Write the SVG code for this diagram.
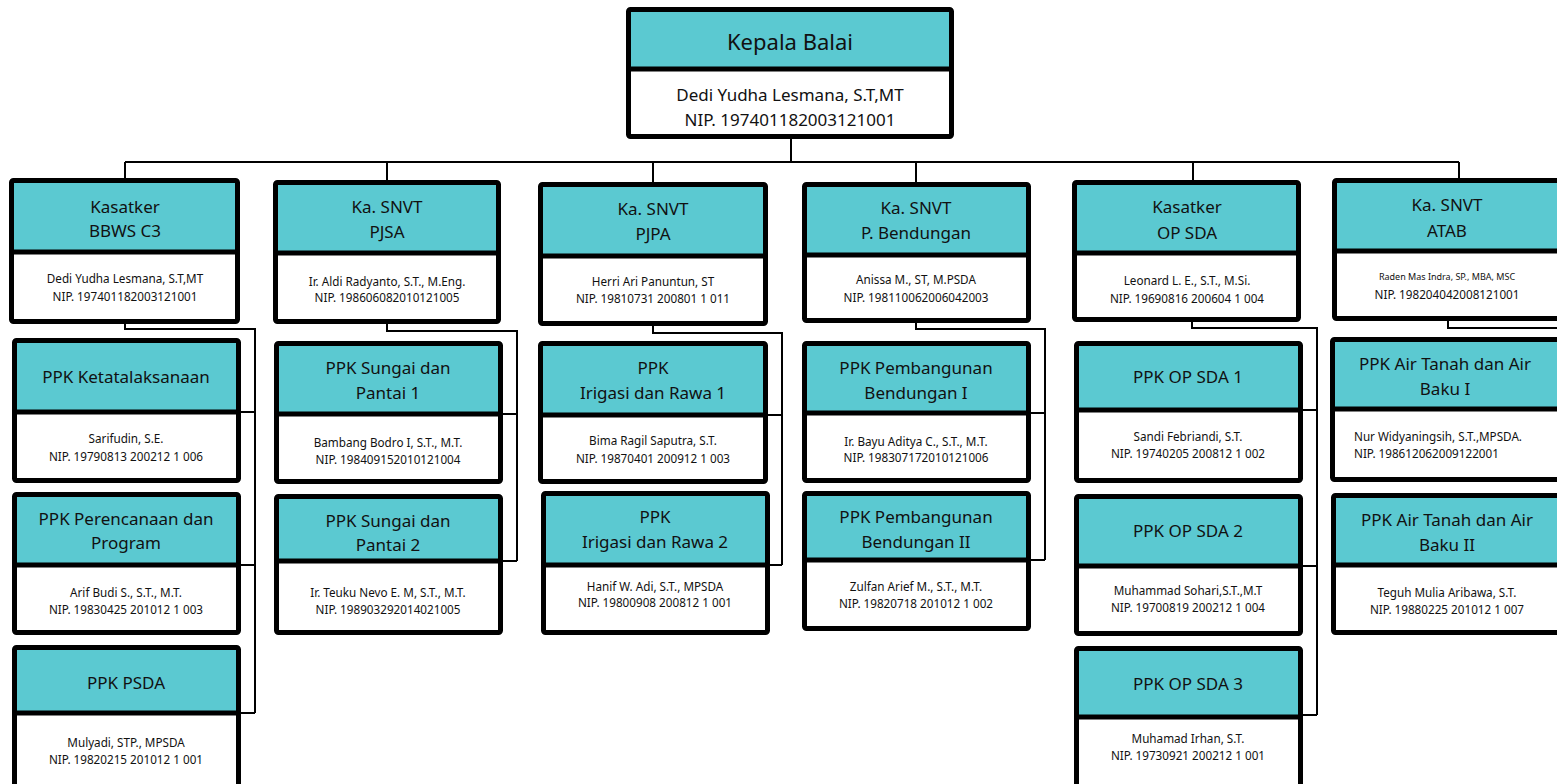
<svg xmlns="http://www.w3.org/2000/svg" width="1557" height="784" viewBox="0 0 1557 784">
<style>
.hd{fill:#5BC9D1;}
.bd{fill:#FFFFFF;}
.bx{fill:none;stroke:#000;stroke-width:5;stroke-linejoin:round;}
.dv{stroke:#000;stroke-width:5;}
.cn{fill:none;stroke:#000;stroke-width:2;}
text{font-family:"Noto Sans","Open Sans","DejaVu Sans",sans-serif;fill:#111;text-anchor:middle;}
.t1{font-size:22px;}
.t2{font-size:17px;}
.t3{font-size:11.7px;}
.t4{font-size:9px;}
.l{text-anchor:start;}
</style>
<rect width="1557" height="784" fill="#fff"/>
<g id="connectors">
<path class="cn" d="M791,139V162M125,162H1459M125,162V178M387,162V180M653,162V182M916,162V182M1193,162V180M1459,162V178"/>
<path class="cn" d="M125,324V329H255V713M241,412H255M241,565H255M241,713H255"/>
<path class="cn" d="M387,324V331H517V561M503,414H517M503,561H517"/>
<path class="cn" d="M653,326V333H782V565M768,415H782M770,565H782"/>
<path class="cn" d="M916,323V329H1045V560M1031,413H1045M1031,560H1045"/>
<path class="cn" d="M1192,322V328H1317V715M1303,410H1317M1303,566H1317M1303,715H1317"/>
<path class="cn" d="M1448,321V328H1560"/>
</g>
<g id="kepala">
<rect class="hd" x="628" y="9" width="324" height="60"/><rect class="bd" x="628" y="69" width="324" height="68"/>
<rect class="bx" x="628.5" y="9.5" width="323" height="127" rx="2"/><line class="dv" x1="628" y1="69" x2="952" y2="69"/>
<text class="t1" x="790" y="50">Kepala Balai</text>
<text class="t2" x="790" y="101">Dedi Yudha Lesmana, S.T,MT</text>
<text class="t2" x="790" y="126">NIP. 197401182003121001</text>
</g>
<g id="bbws">
<rect class="hd" x="11" y="180" width="227" height="72"/><rect class="bd" x="11" y="252" width="227" height="70"/>
<rect class="bx" x="11.5" y="180.5" width="226" height="141" rx="2"/><line class="dv" x1="11" y1="252" x2="238" y2="252"/>
<text class="t2" x="125" y="213">Kasatker</text><text class="t2" x="125" y="237">BBWS C3</text>
<text class="t3" x="125" y="283">Dedi Yudha Lesmana, S.T,MT</text><text class="t3" x="125" y="301">NIP. 197401182003121001</text>
</g>
<g id="ppk-ketatalaksanaan">
<rect class="hd" x="14" y="340" width="225" height="72"/><rect class="bd" x="14" y="412" width="225" height="69"/>
<rect class="bx" x="14.5" y="340.5" width="224" height="140" rx="2"/><line class="dv" x1="14" y1="412" x2="239" y2="412"/>
<text class="t2" x="126" y="383">PPK Ketatalaksanaan</text>
<text class="t3" x="126" y="443">Sarifudin, S.E.</text><text class="t3" x="126" y="461">NIP. 19790813 200212 1 006</text>
</g>
<g id="ppk-perencanaan">
<rect class="hd" x="14" y="494" width="225" height="71"/><rect class="bd" x="14" y="565" width="225" height="68"/>
<rect class="bx" x="14.5" y="494.5" width="224" height="138" rx="2"/><line class="dv" x1="14" y1="565" x2="239" y2="565"/>
<text class="t2" x="126" y="525">PPK Perencanaan dan</text><text class="t2" x="126" y="549">Program</text>
<text class="t3" x="126" y="597">Arif Budi S., S.T., M.T.</text><text class="t3" x="126" y="614">NIP. 19830425 201012 1 003</text>
</g>
<g id="ppk-psda">
<rect class="hd" x="14" y="647" width="225" height="66"/><rect class="bd" x="14" y="713" width="225" height="80"/>
<rect class="bx" x="14.5" y="647.5" width="224" height="150" rx="2"/><line class="dv" x1="14" y1="713" x2="239" y2="713"/>
<text class="t2" x="126" y="689">PPK PSDA</text>
<text class="t3" x="126" y="747">Mulyadi, STP., MPSDA</text><text class="t3" x="126" y="764">NIP. 19820215 201012 1 001</text>
</g>
<g id="pjsa">
<rect class="hd" x="275" y="182" width="224" height="71"/><rect class="bd" x="275" y="253" width="224" height="69"/>
<rect class="bx" x="275.5" y="182.5" width="223" height="139" rx="2"/><line class="dv" x1="275" y1="253" x2="499" y2="253"/>
<text class="t2" x="387" y="213">Ka. SNVT</text><text class="t2" x="387" y="238">PJSA</text>
<text class="t3" x="387" y="286">Ir. Aldi Radyanto, S.T., M.Eng.</text><text class="t3" x="387" y="302">NIP. 198606082010121005</text>
</g>
<g id="ppk-sungai-1">
<rect class="hd" x="276" y="343" width="225" height="71"/><rect class="bd" x="276" y="414" width="225" height="68"/>
<rect class="bx" x="276.5" y="343.5" width="224" height="138" rx="2"/><line class="dv" x1="276" y1="414" x2="501" y2="414"/>
<text class="t2" x="388" y="374">PPK Sungai dan</text><text class="t2" x="388" y="399">Pantai 1</text>
<text class="t3" x="388" y="447">Bambang Bodro I, S.T., M.T.</text><text class="t3" x="388" y="464">NIP. 198409152010121004</text>
</g>
<g id="ppk-sungai-2">
<rect class="hd" x="276" y="496" width="225" height="65"/><rect class="bd" x="276" y="561" width="225" height="72"/>
<rect class="bx" x="276.5" y="496.5" width="224" height="136" rx="2"/><line class="dv" x1="276" y1="561" x2="501" y2="561"/>
<text class="t2" x="388" y="527">PPK Sungai dan</text><text class="t2" x="388" y="551">Pantai 2</text>
<text class="t3" x="388" y="597">Ir. Teuku Nevo E. M, S.T., M.T.</text><text class="t3" x="388" y="614">NIP. 198903292014021005</text>
</g>
<g id="pjpa">
<rect class="hd" x="540" y="184" width="226" height="72"/><rect class="bd" x="540" y="256" width="226" height="68"/>
<rect class="bx" x="540.5" y="184.5" width="225" height="139" rx="2"/><line class="dv" x1="540" y1="256" x2="766" y2="256"/>
<text class="t2" x="653" y="215">Ka. SNVT</text><text class="t2" x="653" y="240">PJPA</text>
<text class="t3" x="653" y="286">Herri Ari Panuntun, ST</text><text class="t3" x="653" y="303">NIP. 19810731 200801 1 011</text>
</g>
<g id="ppk-irigasi-1">
<rect class="hd" x="540" y="343" width="226" height="72"/><rect class="bd" x="540" y="415" width="226" height="67"/>
<rect class="bx" x="540.5" y="343.5" width="225" height="138" rx="2"/><line class="dv" x1="540" y1="415" x2="766" y2="415"/>
<text class="t2" x="653" y="374">PPK</text><text class="t2" x="653" y="399">Irigasi dan Rawa 1</text>
<text class="t3" x="653" y="445">Bima Ragil Saputra, S.T.</text><text class="t3" x="653" y="463">NIP. 19870401 200912 1 003</text>
</g>
<g id="ppk-irigasi-2">
<rect class="hd" x="543" y="493" width="225" height="72"/><rect class="bd" x="543" y="565" width="225" height="68"/>
<rect class="bx" x="543.5" y="493.5" width="224" height="139" rx="2"/><line class="dv" x1="543" y1="565" x2="768" y2="565"/>
<text class="t2" x="655" y="523">PPK</text><text class="t2" x="655" y="548">Irigasi dan Rawa 2</text>
<text class="t3" x="655" y="591">Hanif W. Adi, S.T., MPSDA</text><text class="t3" x="655" y="607">NIP. 19800908 200812 1 001</text>
</g>
<g id="bendungan">
<rect class="hd" x="804" y="184" width="225" height="71"/><rect class="bd" x="804" y="255" width="225" height="66"/>
<rect class="bx" x="804.5" y="184.5" width="224" height="136" rx="2"/><line class="dv" x1="804" y1="255" x2="1029" y2="255"/>
<text class="t2" x="916" y="214">Ka. SNVT</text><text class="t2" x="916" y="239">P. Bendungan</text>
<text class="t3" x="916" y="284">Anissa M., ST, M.PSDA</text><text class="t3" x="916" y="302">NIP. 198110062006042003</text>
</g>
<g id="ppk-bendungan-1">
<rect class="hd" x="804" y="343" width="225" height="70"/><rect class="bd" x="804" y="413" width="225" height="68"/>
<rect class="bx" x="804.5" y="343.5" width="224" height="137" rx="2"/><line class="dv" x1="804" y1="413" x2="1029" y2="413"/>
<text class="t2" x="916" y="374">PPK Pembangunan</text><text class="t2" x="916" y="399">Bendungan I</text>
<text class="t3" x="916" y="446">Ir. Bayu Aditya C., S.T., M.T.</text><text class="t3" x="916" y="462">NIP. 198307172010121006</text>
</g>
<g id="ppk-bendungan-2">
<rect class="hd" x="804" y="493" width="225" height="67"/><rect class="bd" x="804" y="560" width="225" height="69"/>
<rect class="bx" x="804.5" y="493.5" width="224" height="135" rx="2"/><line class="dv" x1="804" y1="560" x2="1029" y2="560"/>
<text class="t2" x="916" y="523">PPK Pembangunan</text><text class="t2" x="916" y="548">Bendungan II</text>
<text class="t3" x="916" y="591">Zulfan Arief M., S.T., M.T.</text><text class="t3" x="916" y="608">NIP. 19820718 201012 1 002</text>
</g>
<g id="opsda">
<rect class="hd" x="1074" y="182" width="225" height="71"/><rect class="bd" x="1074" y="253" width="225" height="67"/>
<rect class="bx" x="1074.5" y="182.5" width="224" height="137" rx="2"/><line class="dv" x1="1074" y1="253" x2="1299" y2="253"/>
<text class="t2" x="1187" y="213">Kasatker</text><text class="t2" x="1187" y="239">OP SDA</text>
<text class="t3" x="1187" y="285">Leonard L. E., S.T., M.Si.</text><text class="t3" x="1187" y="303">NIP. 19690816 200604 1 004</text>
</g>
<g id="ppk-opsda-1">
<rect class="hd" x="1076" y="343" width="225" height="67"/><rect class="bd" x="1076" y="410" width="225" height="71"/>
<rect class="bx" x="1076.5" y="343.5" width="224" height="137" rx="2"/><line class="dv" x1="1076" y1="410" x2="1301" y2="410"/>
<text class="t2" x="1188" y="383">PPK OP SDA 1</text>
<text class="t3" x="1188" y="441">Sandi Febriandi, S.T.</text><text class="t3" x="1188" y="458">NIP. 19740205 200812 1 002</text>
</g>
<g id="ppk-opsda-2">
<rect class="hd" x="1076" y="496" width="225" height="70"/><rect class="bd" x="1076" y="566" width="225" height="68"/>
<rect class="bx" x="1076.5" y="496.5" width="224" height="137" rx="2"/><line class="dv" x1="1076" y1="566" x2="1301" y2="566"/>
<text class="t2" x="1188" y="537">PPK OP SDA 2</text>
<text class="t3" x="1188" y="595">Muhammad Sohari,S.T.,M.T</text><text class="t3" x="1188" y="612">NIP. 19700819 200212 1 004</text>
</g>
<g id="ppk-opsda-3">
<rect class="hd" x="1076" y="648" width="225" height="69"/><rect class="bd" x="1076" y="717" width="225" height="80"/>
<rect class="bx" x="1076.5" y="648.5" width="224" height="150" rx="2"/><line class="dv" x1="1076" y1="717" x2="1301" y2="717"/>
<text class="t2" x="1188" y="690">PPK OP SDA 3</text>
<text class="t3" x="1188" y="743">Muhamad Irhan, S.T.</text><text class="t3" x="1188" y="760">NIP. 19730921 200212 1 001</text>
</g>
<g id="atab">
<rect class="hd" x="1334" y="180" width="226" height="71"/><rect class="bd" x="1334" y="251" width="226" height="68"/>
<rect class="bx" x="1334.5" y="180.5" width="225" height="138" rx="2"/><line class="dv" x1="1334" y1="251" x2="1560" y2="251"/>
<text class="t2" x="1447" y="211">Ka. SNVT</text><text class="t2" x="1447" y="237">ATAB</text>
<text class="t4" x="1447" y="280">Raden Mas Indra, SP., MBA, MSC</text><text class="t3" x="1447" y="299">NIP. 198204042008121001</text>
</g>
<g id="ppk-airtanah-1">
<rect class="hd" x="1332" y="339" width="228" height="70"/><rect class="bd" x="1332" y="409" width="228" height="70"/>
<rect class="bx" x="1332.5" y="339.5" width="227" height="140" rx="2"/><line class="dv" x1="1332" y1="409" x2="1560" y2="409"/>
<text class="t2" x="1445" y="370">PPK Air Tanah dan Air</text><text class="t2" x="1445" y="395">Baku I</text>
<text class="t3 l" x="1354" y="441">Nur Widyaningsih, S.T.,MPSDA.</text><text class="t3 l" x="1354" y="458">NIP. 198612062009122001</text>
</g>
<g id="ppk-airtanah-2">
<rect class="hd" x="1333" y="495" width="227" height="70"/><rect class="bd" x="1333" y="565" width="227" height="68"/>
<rect class="bx" x="1333.5" y="495.5" width="226" height="137" rx="2"/><line class="dv" x1="1333" y1="565" x2="1560" y2="565"/>
<text class="t2" x="1447" y="526">PPK Air Tanah dan Air</text><text class="t2" x="1447" y="551">Baku II</text>
<text class="t3" x="1447" y="597">Teguh Mulia Aribawa, S.T.</text><text class="t3" x="1447" y="614">NIP. 19880225 201012 1 007</text>
</g>
</svg>
